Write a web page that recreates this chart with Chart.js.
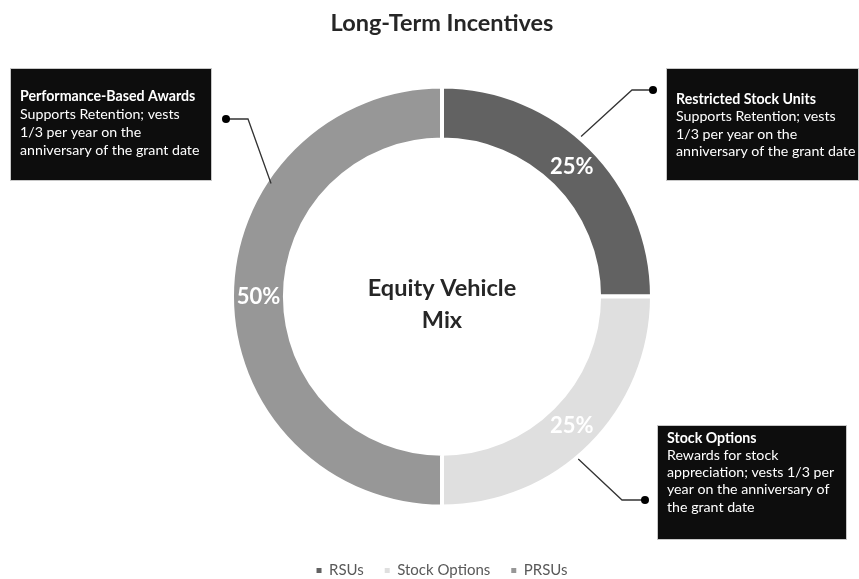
<!DOCTYPE html>
<html>
<head>
<meta charset="utf-8">
<script src="https://cdn.jsdelivr.net/npm/chart.js@4/dist/chart.umd.min.js"></script>
<style>
  html, body { margin: 0; padding: 0; background: #fff; }
  #wrap { width: 859px; height: 579px; }
</style>
</head>
<body>
<div id="wrap"><canvas id="ltiChart"></canvas></div>
<script>
// Datos del gráfico
const categorias = ['RSUs', 'Stock Options', 'PRSUs'];
const valores = [25, 25, 50];
const colores = ['#626262', '#dfdfdf', '#979797'];

// Textos de las cajas de llamada (una por categoría)
const llamadaTitulos = ['Restricted Stock Units', 'Stock Options', 'Performance-Based Awards'];
const llamadaLineas = [
    ['Supports Retention; vests', '1/3 per year on the', 'anniversary of the grant date'],
    ['Rewards for stock', 'appreciation; vests 1/3 per', 'year on the anniversary of', 'the grant date'],
    ['Supports Retention; vests', '1/3 per year on the', 'anniversary of the grant date']
];

const FUENTE = 'Lato, "Open Sans", sans-serif';

// Posición de cada caja y de su línea guía (estilo, no datos)
const cajas = [
    { x: 666, y: 68, w: 193, h: 113, tx: 676, ty: 99, step: 17.6, dot: [653, 90], elbow: [632, 90], ang: 41, r: 212 },
    { x: 657, y: 425, w: 190, h: 115, tx: 667, ty: 438, step: 17.3, dot: [645, 500], elbow: [622, 500], ang: 140, r: 212 },
    { x: 10, y: 68, w: 202, h: 113, tx: 20, ty: 96, step: 18, dot: [226, 119], elbow: [248, 119], ang: 303.5, r: 205 }
];

// Plugin para porcentajes, texto central y llamadas
const extrasPlugin = {
    id: 'extras',
    afterDatasetsDraw(chart) {
        const ctx = chart.ctx;
        const meta = chart.getDatasetMeta(0);
        const total = valores.reduce((a, b) => a + b, 0);
        const arc0 = meta.data[0];
        const cx = arc0.x, cy = arc0.y;

        ctx.save();
        // porcentajes sobre el anillo
        ctx.fillStyle = '#ffffff';
        ctx.font = 'bold 22px ' + FUENTE;
        ctx.textAlign = 'center';
        ctx.textBaseline = 'middle';
        meta.data.forEach((arc, i) => {
            const p = arc.tooltipPosition();
            ctx.fillText(Math.round(valores[i] / total * 100) + '%', p.x, p.y);
        });

        // texto central
        ctx.fillStyle = '#262626';
        ctx.font = 'bold 23.5px ' + FUENTE;
        ctx.fillText('Equity Vehicle', cx, cy - 8);
        ctx.fillText('Mix', cx, cy + 24);

        // llamadas
        cajas.forEach((c, i) => {
            const a = c.ang * Math.PI / 180;
            const ex = cx + c.r * Math.sin(a);
            const ey = cy - c.r * Math.cos(a);
            ctx.strokeStyle = '#333333';
            ctx.lineWidth = 1.3;
            ctx.beginPath();
            ctx.moveTo(c.dot[0], c.dot[1]);
            ctx.lineTo(c.elbow[0], c.elbow[1]);
            ctx.lineTo(ex, ey);
            ctx.stroke();
            ctx.fillStyle = '#000000';
            ctx.beginPath();
            ctx.arc(c.dot[0], c.dot[1], 4, 0, Math.PI * 2);
            ctx.fill();

            ctx.fillStyle = '#0d0d0d';
            ctx.fillRect(c.x, c.y, c.w, c.h);
            ctx.strokeStyle = '#c8c8c8';
            ctx.lineWidth = 1;
            ctx.strokeRect(c.x + 0.5, c.y + 0.5, c.w - 1, c.h - 1);

            ctx.fillStyle = '#ffffff';
            ctx.textAlign = 'left';
            ctx.font = 'bold 14.2px ' + FUENTE;
            ctx.fillText(llamadaTitulos[i], c.tx, c.ty);
            ctx.font = '14.2px ' + FUENTE;
            llamadaLineas[i].forEach((t, k) => {
                ctx.fillText(t, c.tx, c.ty + c.step * (k + 1));
            });
            ctx.textAlign = 'center';
        });
        ctx.restore();
    }
};

const ltiChart = new Chart(document.getElementById('ltiChart'), {
    type: 'doughnut',
    data: {
        labels: categorias,
        datasets: [{
            data: valores,
            backgroundColor: colores,
            borderColor: '#ffffff',
            borderWidth: 4,
            hoverOffset: 0,
            radius: 210,
            cutout: '74.8%'
        }]
    },
    options: {
        responsive: true,
        maintainAspectRatio: false,
        animation: false,
        events: [],
        layout: { padding: { left: 25, right: 0, top: 0, bottom: -9 } },
        plugins: {
            tooltip: { enabled: false },
            title: {
                display: true,
                text: 'Long-Term Incentives',
                color: '#262626',
                font: { family: FUENTE, size: 23.5, weight: 'bold' },
                padding: { top: 9, bottom: 14 }
            },
            legend: {
                position: 'bottom',
                labels: {
                    color: '#595959',
                    font: { family: FUENTE, size: 15 },
                    usePointStyle: true,
                    pointStyle: 'rect',
                    boxWidth: 5,
                    boxHeight: 5,
                    padding: 21,
                    generateLabels(chart) {
                        const items = Chart.overrides.doughnut.plugins.legend.labels.generateLabels(chart);
                        return items.map(it => Object.assign(it, { lineWidth: 0, strokeStyle: it.fillStyle }));
                    }
                }
            }
        }
    },
    plugins: [extrasPlugin]
});
</script>
</body>
</html>
